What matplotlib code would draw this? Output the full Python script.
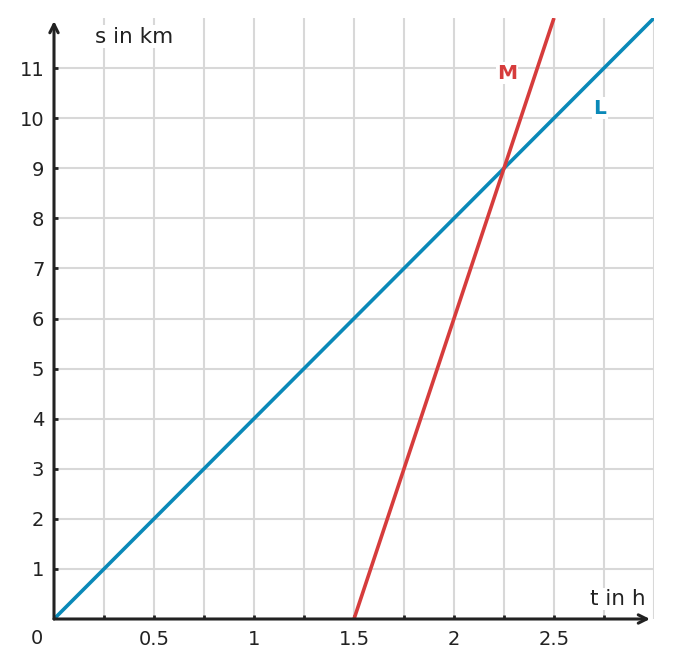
import matplotlib
matplotlib.use("Agg")
import matplotlib.pyplot as plt
import numpy as np

# Weg-Zeit-Diagramm: L und M
t_L = [0, 3]
s_L = [0, 12]
t_M = [1.5, 2.5]
s_M = [0, 12]

x_ticks = [0.5, 1, 1.5, 2, 2.5]
x_tick_labels = ["0.5", "1", "1.5", "2", "2.5"]
x_minor = [0.25, 0.75, 1.25, 1.75, 2.25, 2.75]
y_ticks = list(range(1, 12))

BLUE = "#0a89b8"
RED = "#d63c3c"
GRID = "#d8d8d8"
AXIS = "#222222"

fig = plt.figure(figsize=(6.74, 6.68), dpi=100)
ax = fig.add_axes([54 / 674, 49 / 668, 600 / 674, 601 / 668])
ax.set_xlim(0, 3)
ax.set_ylim(0, 12)

# grid every 0.25 h and every 1 km
for x in np.arange(0.25, 3.01, 0.25):
    ax.axvline(x, color=GRID, lw=1.5, zorder=0)
for y in range(1, 12):
    ax.axhline(y, color=GRID, lw=1.5, zorder=0)

ax.plot(t_L, s_L, color=BLUE, lw=2.6, solid_capstyle="butt", zorder=3)
ax.plot(t_M, s_M, color=RED, lw=2.6, solid_capstyle="butt", zorder=3)

for sp in ax.spines.values():
    sp.set_visible(False)

ax.set_xticks(x_ticks)
ax.set_xticklabels(x_tick_labels)
ax.set_xticks(x_minor, minor=True)
ax.set_yticks(y_ticks)
ax.tick_params(axis="both", which="both", direction="in", length=3, width=2,
               color=AXIS, labelsize=14, labelcolor=AXIS)
ax.tick_params(axis="x", pad=8)
ax.tick_params(axis="y", pad=7)

# axes arrows
arrow = dict(arrowstyle="->,head_length=0.6,head_width=0.3", color=AXIS, lw=2.2,
             shrinkA=0, shrinkB=0)
ax.annotate("", xy=(2.98, 0), xytext=(0, 0), arrowprops=arrow,
            annotation_clip=False, zorder=4)
ax.annotate("", xy=(0, 11.94), xytext=(0, 0), arrowprops=arrow,
            annotation_clip=False, zorder=4)

ax.text(-0.085, -0.38, "0", fontsize=14, color=AXIS, ha="center", va="center")
ax.text(0.4, 11.63, "s in km", fontsize=15.5, color=AXIS, ha="center", va="center",
        bbox=dict(facecolor="white", edgecolor="none", pad=1))
ax.text(2.82, 0.4, "t in h", fontsize=15.5, color=AXIS, ha="center", va="center",
        bbox=dict(facecolor="white", edgecolor="none", pad=1))
ax.text(2.265, 10.9, "M", fontsize=14.5, color=RED, fontweight="bold",
        ha="center", va="center",
        bbox=dict(facecolor="white", edgecolor="none", pad=1), zorder=5)
ax.text(2.73, 10.2, "L", fontsize=14.5, color=BLUE, fontweight="bold",
        ha="center", va="center",
        bbox=dict(facecolor="white", edgecolor="none", pad=1), zorder=5)

fig.savefig("out.png", dpi=100)
